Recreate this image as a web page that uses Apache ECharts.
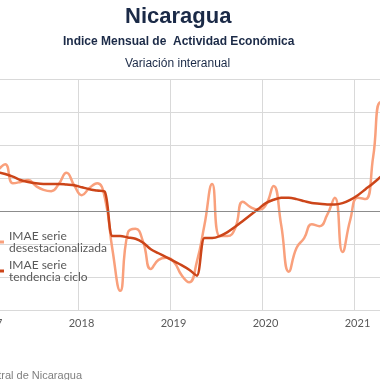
<!DOCTYPE html>
<html><head><meta charset="utf-8">
<script src="https://cdn.jsdelivr.net/npm/echarts@6/dist/echarts.min.js"></script>
<style>html,body{margin:0;padding:0;background:#fff}#c{width:380px;height:380px}</style>
</head><body><div id="c"></div>
<script>
// Monthly series starting January 2017
const startYear = 2017;
const desestacionalizada = [
  5.5, 6.2, 7.1, 4.2, 4.4, 4.7, 3.8, 3.2, 3.0, 4.1, 5.8, 3.9,
  2.4, 3.5, 4.2, 2.0, -5.9, -12.1, -3.3, -2.7, -4.7, -8.8, -7.4, -7.1,
  -7.7, -9.7, -10.8, -7.7, -2.1, 4.1, -3.8, -3.8, -2.6, 1.4, 0.6, 0.2,
  0.9, 3.8, -2.1, -9.2, -5.6, -4.1, -2.0, -2.3, -0.6, 2.0, -6.2, -1.4,
  2.0, 1.8, 8.2, 16.5, 15.3
];
const tendenciaCiclo = [
  6.2, 5.9, 5.6, 5.2, 4.7, 4.4, 4.2, 4.1, 4.1, 4.1, 4.0, 3.9,
  3.6, 3.3, 3.1, 2.9, -3.8, -3.8, -4.0, -4.2, -4.8, -5.8, -6.4, -7.0,
  -7.6, -8.2, -8.9, -9.8, -4.1, -4.1, -3.8, -3.2, -2.4, -1.5, -0.6, 0.3,
  1.2, 1.7, 2.0, 2.0, 1.8, 1.5, 1.2, 1.1, 1.0, 1.0, 1.2, 1.7,
  2.4, 3.3, 4.2, 5.2, 6.2
];
const yearTicks = [2017, 2018, 2019, 2020, 2021, 2022];
const seriesNames = ['IMAE serie\ndesestacionalizada', 'IMAE serie\ntendencia ciclo'];

function toPoints(vals) {
  return vals.map((v, i) => [startYear + Math.floor(i / 12) + ((i % 12) + 0.5) / 12, v]);
}

const chart = echarts.init(document.getElementById('c'), null, {renderer: 'canvas'});
const legendText = {color: '#595959', fontSize: 12, fontFamily: 'Lato', lineHeight: 12, padding: [12, 0, 0, 0]};
chart.setOption({
  animation: false,
  backgroundColor: '#ffffff',
  title: [
    {text: 'Nicaragua', left: 120, top: 1,
     textStyle: {fontFamily: 'Liberation Sans', fontWeight: 'bold', fontSize: 22, color: '#1b2a47'}},
    {text: 'Indice Mensual de  Actividad Económica', left: 58, top: 31,
     textStyle: {fontFamily: 'Liberation Sans', fontWeight: 'bold', fontSize: 12, color: '#1b2a47'}},
    {text: 'Variación interanual', left: 120, top: 53,
     textStyle: {fontFamily: 'Liberation Sans', fontWeight: 'normal', fontSize: 12, color: '#1b2a47'}},
    {text: 'Fuente: Banco Central de Nicaragua', right: 293, top: 365,
     textStyle: {fontFamily: 'Liberation Sans', fontWeight: 'normal', fontSize: 11, color: '#7f7f7f'}}
  ],
  legend: [
    {data: [seriesNames[0]], left: -8, top: 224, padding: 0, itemWidth: 12, itemHeight: 3,
     icon: 'rect', textStyle: legendText},
    {data: [seriesNames[1]], left: -8, top: 253, padding: 0, itemWidth: 12, itemHeight: 3,
     icon: 'rect', textStyle: legendText}
  ],
  grid: {left: -14, right: -66, top: 79, bottom: 70, containLabel: false, outerBoundsMode: 'none'},
  xAxis: {
    type: 'value', min: yearTicks[0], max: yearTicks[yearTicks.length - 1], interval: 1,
    axisLine: {show: false}, axisTick: {show: false},
    axisLabel: {color: '#595959', fontSize: 11, fontFamily: 'Lato', margin: 8, padding: [0, 0, 0, 7],
                formatter: v => String(v)},
    splitLine: {show: true, lineStyle: {color: '#d9d9d9', width: 1}}
  },
  yAxis: {
    type: 'value', min: -15, max: 20, interval: 5,
    axisLine: {show: false}, axisTick: {show: false}, axisLabel: {show: false},
    splitLine: {show: true, lineStyle: {color: '#d9d9d9', width: 1}}
  },
  series: [
    {name: seriesNames[0], type: 'line', data: toPoints(desestacionalizada), smooth: 0.5,
     showSymbol: false, lineStyle: {color: '#f9a07c', width: 2.5}, itemStyle: {color: '#f9a07c'},
     markLine: {silent: true, symbol: 'none', label: {show: false},
                lineStyle: {color: '#8c8c8c', width: 1, type: 'solid'}, data: [{yAxis: 0}]},
     z: 2},
    {name: seriesNames[1], type: 'line', data: toPoints(tendenciaCiclo), smooth: 0.3,
     showSymbol: false, lineStyle: {color: '#cc4519', width: 2.5}, itemStyle: {color: '#cc4519'}, z: 3}
  ]
});
</script></body></html>
